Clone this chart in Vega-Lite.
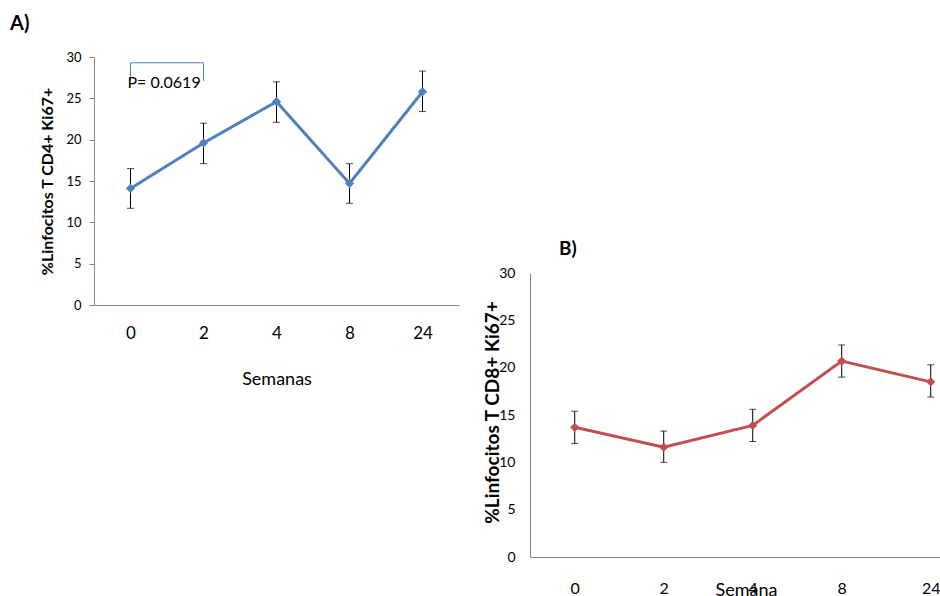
{
  "$schema": "https://vega.github.io/schema/vega-lite/v6.json",
  "background": "white",
  "padding": {"left": 10, "top": 14, "right": 0, "bottom": 0},
  "config": {
    "view": {"stroke": null},
    "font": "Lato",
    "axis": {"grid": false, "domainColor": "#868686", "tickColor": "#868686", "labelColor": "#000", "titleColor": "#000", "labelFont": "Lato", "titleFont": "Lato"}
  },
  "datasets": {
    "cd4": [
      {"week": "0", "mean": 14.1, "lo": 11.7, "hi": 16.5},
      {"week": "2", "mean": 19.6, "lo": 17.1, "hi": 22.0},
      {"week": "4", "mean": 24.6, "lo": 22.1, "hi": 27.0},
      {"week": "8", "mean": 14.7, "lo": 12.3, "hi": 17.1},
      {"week": "24", "mean": 25.8, "lo": 23.4, "hi": 28.3}
    ],
    "cd8": [
      {"week": "0", "mean": 13.7, "lo": 12.0, "hi": 15.4},
      {"week": "2", "mean": 11.6, "lo": 10.0, "hi": 13.3},
      {"week": "4", "mean": 13.9, "lo": 12.2, "hi": 15.6},
      {"week": "8", "mean": 20.7, "lo": 19.0, "hi": 22.4},
      {"week": "24", "mean": 18.5, "lo": 16.9, "hi": 20.3}
    ],
    "bracket": [
      {"week": "0", "v": 27.1, "o": 1},
      {"week": "0", "v": 29.3, "o": 2},
      {"week": "2", "v": 29.3, "o": 3},
      {"week": "2", "v": 27.1, "o": 4}
    ],
    "ptext": [
      {"week": "0", "v": 26.9, "label": "P= 0.0619"}
    ]
  },
  "align": "none",
  "spacing": 24,
  "hconcat": [
    {
      "width": 365,
      "height": 248,
      "title": {"text": "A)", "anchor": "start", "frame": "group", "dx": -84, "fontSize": 20, "fontWeight": "bold", "color": "#000", "offset": 17},
      "encoding": {
        "x": {"field": "week", "type": "ordinal", "sort": ["0", "2", "4", "8", "24"],
          "scale": {"type": "point", "padding": 0.5, "domain": ["0", "2", "4", "8", "24"]},
          "axis": {"title": "Semanas", "labelAngle": 0, "ticks": false, "labelFontSize": 17, "labelPadding": 20, "titleFontSize": 18, "titleFontWeight": "normal", "titleBaseline": "middle", "titleY": 74}}
      },
      "layer": [
        {
          "data": {"name": "cd4"},
          "mark": {"type": "errorbar", "ticks": {"size": 7, "color": "#000", "thickness": 1}, "rule": {"color": "#000", "strokeWidth": 1}},
          "encoding": {
            "y": {"field": "lo", "type": "quantitative", "scale": {"domain": [0, 30], "nice": false},
              "axis": {"title": "%Linfocitos T CD4+ Ki67+", "values": [0, 5, 10, 15, 20, 25, 30], "tickSize": 5, "labelFontSize": 13, "labelPadding": 8, "titleFontSize": 16, "titleFontWeight": "bold", "titleBaseline": "alphabetic", "titleX": -42}},
            "y2": {"field": "hi"}
          }
        },
        {
          "data": {"name": "cd4"},
          "mark": {"type": "line", "color": "#4F81BD", "strokeWidth": 3, "point": {"shape": "diamond", "size": 85, "filled": true, "color": "#4F81BD"}},
          "encoding": {"y": {"field": "mean", "type": "quantitative"}}
        },
        {
          "data": {"name": "bracket"},
          "mark": {"type": "line", "color": "#4F81BD", "strokeWidth": 1},
          "encoding": {"y": {"field": "v", "type": "quantitative"}, "order": {"field": "o"}}
        },
        {
          "data": {"name": "ptext"},
          "mark": {"type": "text", "align": "left", "baseline": "middle", "dx": -3, "fontSize": 16, "color": "#000"},
          "encoding": {"y": {"field": "v", "type": "quantitative"}, "text": {"field": "label"}}
        }
      ]
    },
    {
      "width": 411,
      "height": 500,
      "title": {"text": "B)", "fontSize": 19, "fontWeight": "bold", "color": "#000", "anchor": "start", "frame": "group", "dx": 29, "dy": 210, "offset": 8},
      "encoding": {
        "x": {"field": "week", "type": "ordinal", "sort": ["0", "2", "4", "8", "24"],
          "scale": {"type": "point", "padding": 0.309, "align": 0.813, "domain": ["0", "2", "4", "8", "24"]},
          "axis": {"title": "Semana", "labelAngle": 0, "ticks": false, "labelFontSize": 16, "labelPadding": 23, "titleFontSize": 18, "titleFontWeight": "normal", "titleBaseline": "middle", "titleY": 33, "titleX": 216}}
      },
      "layer": [
        {
          "data": {"name": "cd8"},
          "mark": {"type": "errorbar", "ticks": {"size": 7, "color": "#000", "thickness": 1}, "rule": {"color": "#000", "strokeWidth": 1}},
          "encoding": {
            "y": {"field": "lo", "type": "quantitative", "scale": {"domain": [0, 30], "nice": false, "range": [500, 216]},
              "axis": {"title": "%Linfocitos T CD8+ Ki67+", "values": [0, 5, 10, 15, 20, 25, 30], "ticks": false, "labelFontSize": 14, "labelPadding": 15, "titleFontSize": 19, "titleFontWeight": "bold", "titleBaseline": "alphabetic", "titleX": -32, "titleY": 355}},
            "y2": {"field": "hi"}
          }
        },
        {
          "data": {"name": "cd8"},
          "mark": {"type": "line", "color": "#C0504D", "strokeWidth": 3, "point": {"shape": "diamond", "size": 85, "filled": true, "color": "#C0504D"}},
          "encoding": {"y": {"field": "mean", "type": "quantitative"}}
        }
      ]
    }
  ]
}
